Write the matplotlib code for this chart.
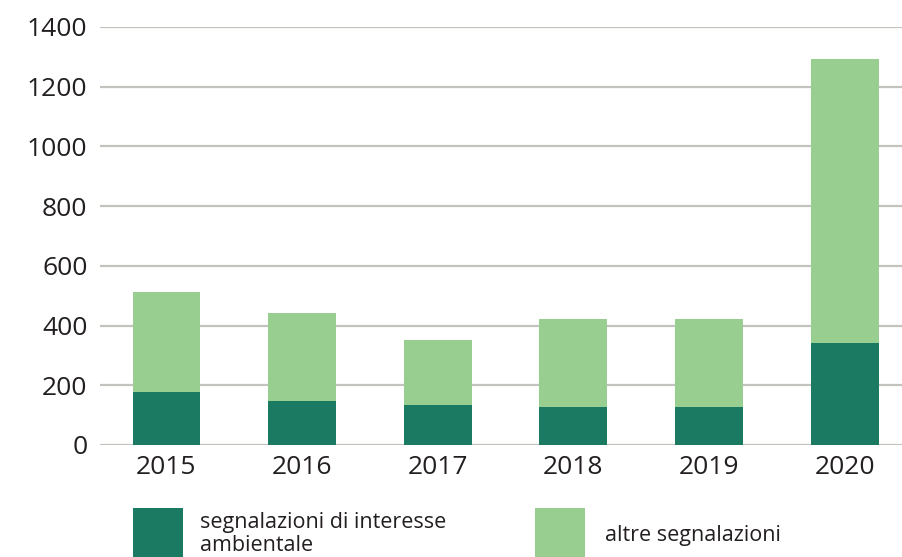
import matplotlib
matplotlib.use("Agg")
import matplotlib.pyplot as plt
from matplotlib.patches import Rectangle

plt.rcParams["font.family"] = ["Open Sans", "DejaVu Sans"]

years = ["2015", "2016", "2017", "2018", "2019", "2020"]
ambientali = [177, 147, 134, 128, 128, 342]
altre = [335, 295, 217, 294, 294, 950]
y_ticks = [0, 200, 400, 600, 800, 1000, 1200, 1400]

dark = "#1a7a62"
light = "#98ce8f"
grid_col = "#c3c2bc"
text_col = "#231f20"

fig = plt.figure(figsize=(9.03, 5.57), dpi=100)
ax = fig.add_axes([100 / 903, 1 - 445 / 557, 803 / 903, 418 / 557])

x = range(len(years))
ax.bar(x, ambientali, width=0.5, color=dark, zorder=3)
ax.bar(x, altre, width=0.5, bottom=ambientali, color=light, zorder=3)

ax.set_ylim(0, 1400)
ax.set_xlim(-0.49, 5.43)
ax.set_yticks(y_ticks)
ax.set_xticks(list(x))
ax.set_xticklabels(years)
ax.yaxis.grid(True, color=grid_col, linewidth=1.6, zorder=0)
ax.set_axisbelow(True)
for s in ax.spines.values():
    s.set_visible(False)
ax.tick_params(axis="both", length=0, labelsize=19, colors=text_col)
ax.tick_params(axis="y", pad=9)
ax.tick_params(axis="x", pad=7)

# legend drawn by hand, swatches run off the bottom edge like the original
H = 557
fig.add_artist(Rectangle((133 / 903, 0), 50 / 903, (H - 508) / H,
                         transform=fig.transFigure, color=dark, lw=0))
fig.add_artist(Rectangle((535 / 903, 0), 50 / 903, (H - 508) / H,
                         transform=fig.transFigure, color=light, lw=0))
fig.text(200 / 903, 1 - 512 / H, "segnalazioni di interesse\nambientale",
         fontsize=15.5, color=text_col, va="top", ha="left", linespacing=1.12)
fig.text(605 / 903, 1 - 535 / H, "altre segnalazioni",
         fontsize=15.5, color=text_col, va="center", ha="left")

fig.savefig("out.png", dpi=100)
